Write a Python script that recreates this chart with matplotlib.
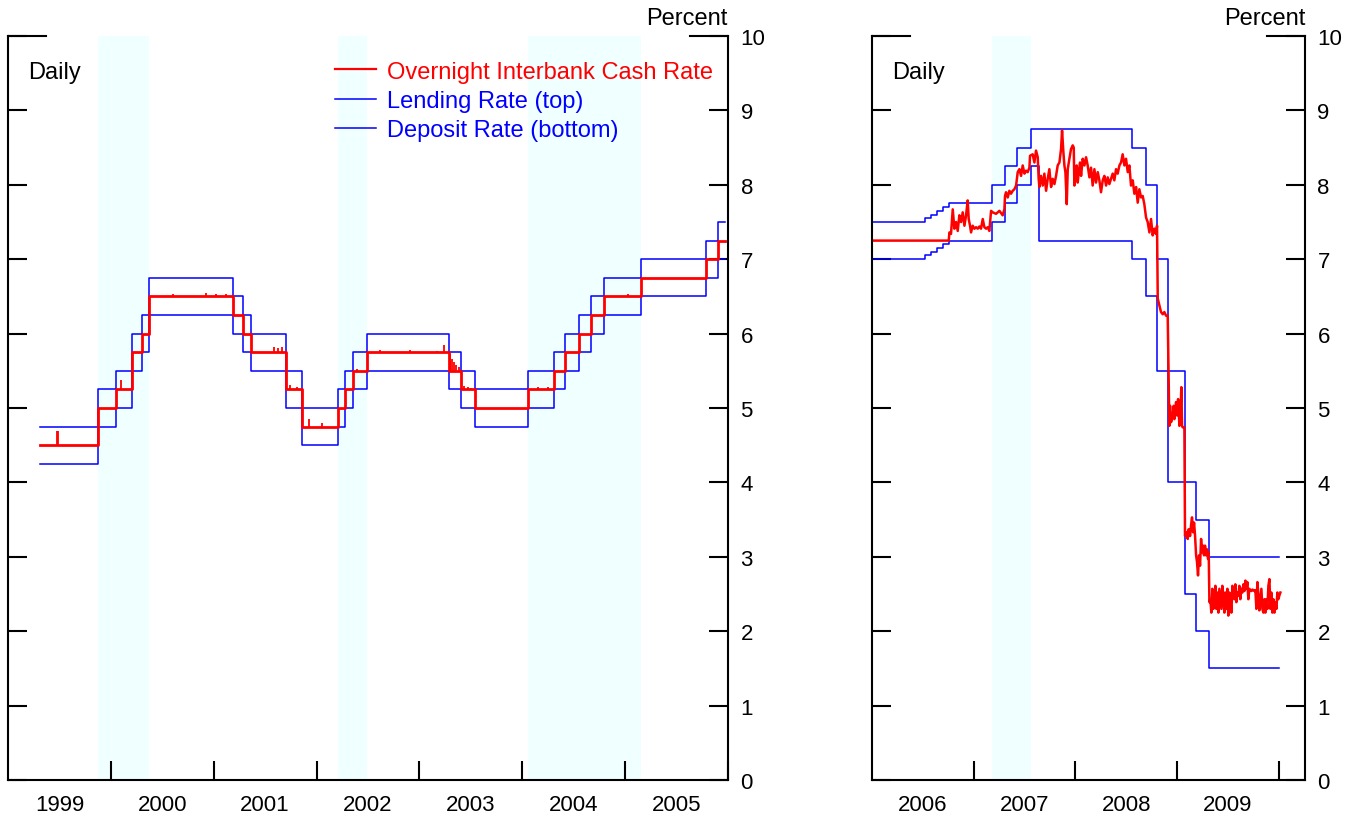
import matplotlib.pyplot as plt
from matplotlib.lines import Line2D

plt.rcParams['font.family'] = ['Liberation Sans', 'DejaVu Sans']

# ---- left panel: 1999-2005, step dates (decimal years) and rates ----
left_dates = [1999.31, 1999.874, 2000.048, 2000.203, 2000.300, 2000.367, 2001.190,
              2001.286, 2001.364, 2001.702, 2001.857, 2002.205, 2002.280, 2002.353,
              2002.492, 2003.288, 2003.407, 2003.537, 2004.055, 2004.304, 2004.417,
              2004.548, 2004.664, 2004.797, 2005.158, 2005.786, 2005.906, 2005.967]
left_cash = [4.5, 5.0, 5.25, 5.75, 6.0, 6.5, 6.25, 6.0, 5.75, 5.25, 4.75, 5.0, 5.25,
             5.5, 5.75, 5.5, 5.25, 5.0, 5.25, 5.5, 5.75, 6.0, 6.25, 6.5, 6.75, 7.0,
             7.25, 7.25]
left_lending = [4.75, 5.25, 5.5, 6.0, 6.25, 6.75, 6.5, 6.25, 6.0, 5.5, 5.0, 5.25, 5.5,
                5.75, 6.0, 5.75, 5.5, 5.25, 5.5, 5.75, 6.0, 6.25, 6.5, 6.75, 7.0, 7.25,
                7.5, 7.5]
left_deposit = [4.25, 4.75, 5.0, 5.5, 5.75, 6.25, 6.0, 5.75, 5.5, 5.0, 4.5, 4.75, 5.0,
                5.25, 5.5, 5.25, 5.0, 4.75, 5.0, 5.25, 5.5, 5.75, 6.0, 6.25, 6.5, 6.75,
                7.0, 7.0]
# small daily blips of the cash rate away from the target
blip_dates = [1999.478, 1999.485, 2000.094, 2000.600, 2000.928, 2001.022, 2001.119,
              2001.586, 2001.625, 2001.663, 2001.741, 2001.809, 2001.925, 2002.050,
              2002.389, 2002.618, 2002.908, 2003.175, 2003.240, 2003.298, 2003.317,
              2003.337, 2003.356, 2003.385, 2003.430, 2003.470, 2003.500, 2004.150,
              2004.250, 2005.030]
blip_base = [4.5, 4.5, 5.25, 6.5, 6.5, 6.5, 6.5, 5.75, 5.75, 5.75, 5.25, 5.25, 4.75,
             4.75, 5.5, 5.75, 5.75, 5.75, 5.75, 5.5, 5.5, 5.5, 5.5, 5.5, 5.25, 5.25,
             5.25, 5.25, 5.25, 6.5]
blip_peak = [4.69, 4.69, 5.37, 6.53, 6.55, 6.53, 6.53, 5.82, 5.80, 5.82, 5.31, 5.28,
             4.85, 4.80, 5.53, 5.78, 5.78, 5.77, 5.85, 5.72, 5.66, 5.62, 5.58, 5.55,
             5.30, 5.28, 5.27, 5.28, 5.28, 6.53]
left_shade = [(1999.874, 2000.367), (2002.205, 2002.492), (2004.055, 2005.158)]
left_years = ['1999', '2000', '2001', '2002', '2003', '2004', '2005']

# ---- right panel: 2006-2009 ----
right_dates = [2006.0, 2006.522, 2006.581, 2006.636, 2006.695, 2006.754, 2007.177,
               2007.309, 2007.423, 2007.560, 2007.639, 2008.558, 2008.691, 2008.800,
               2008.914, 2009.079, 2009.187, 2009.318, 2010.006]
right_lending = [7.5, 7.55, 7.6, 7.65, 7.7, 7.75, 8.0, 8.25, 8.5, 8.75, 8.75, 8.5, 8.0,
                 7.0, 5.5, 4.0, 3.5, 3.0, 3.0]
right_deposit = [7.0, 7.05, 7.1, 7.15, 7.2, 7.25, 7.5, 7.75, 8.0, 8.25, 7.25, 7.0, 6.5,
                 5.5, 4.0, 2.5, 2.0, 1.5, 1.5]

cash_t = [2006.0, 2006.755, 2006.761, 2006.777, 2006.794, 2006.810, 2006.827, 2006.843,
          2006.859, 2006.876, 2006.892, 2006.909, 2006.925, 2006.941, 2006.951, 2006.964,
          2006.974, 2006.990, 2007.007, 2007.023, 2007.040, 2007.056, 2007.072, 2007.089,
          2007.105, 2007.122, 2007.138, 2007.154, 2007.171, 2007.187, 2007.220, 2007.253,
          2007.285, 2007.302, 2007.308, 2007.318, 2007.335, 2007.351, 2007.367, 2007.384,
          2007.400, 2007.417, 2007.433, 2007.449, 2007.466, 2007.482, 2007.499, 2007.515,
          2007.531, 2007.548, 2007.554, 2007.580, 2007.597, 2007.613, 2007.630, 2007.639,
          2007.646, 2007.662, 2007.679, 2007.695, 2007.712, 2007.728, 2007.744,
          2007.761, 2007.777, 2007.794, 2007.810, 2007.826, 2007.843, 2007.859, 2007.869,
          2007.882, 2007.892, 2007.902, 2007.915, 2007.925, 2007.941, 2007.957, 2007.974,
          2007.984, 2007.990, 2008.000, 2008.013, 2008.023, 2008.033, 2008.046, 2008.056,
          2008.072, 2008.089, 2008.105, 2008.121, 2008.138, 2008.154, 2008.170, 2008.187,
          2008.203, 2008.220, 2008.236, 2008.252, 2008.269, 2008.285, 2008.302, 2008.318,
          2008.334, 2008.351, 2008.367, 2008.383, 2008.400, 2008.416, 2008.433, 2008.449,
          2008.465, 2008.482, 2008.498, 2008.515, 2008.531, 2008.547, 2008.564, 2008.580,
          2008.597, 2008.613, 2008.629, 2008.646, 2008.662, 2008.678, 2008.695, 2008.711,
          2008.728, 2008.744, 2008.760, 2008.777, 2008.793, 2008.803,
          2008.810, 2008.826, 2008.842, 2008.859, 2008.875, 2008.892, 2008.908,
          2008.924, 2008.931, 2008.941, 2008.957, 2008.967, 2008.973, 2008.983, 2008.990,
          2009.000, 2009.010, 2009.016, 2009.023, 2009.032, 2009.042, 2009.049, 2009.055,
          2009.072, 2009.078, 2009.088, 2009.105, 2009.114, 2009.128, 2009.137, 2009.147,
          2009.157, 2009.167, 2009.177, 2009.187, 2009.196, 2009.206, 2009.216, 2009.226,
          2009.236, 2009.246, 2009.255, 2009.265, 2009.275, 2009.285, 2009.295, 2009.305,
          2009.311, 2009.318, 2009.327, 2009.337, 2009.347, 2009.357, 2009.367, 2009.377,
          2009.386, 2009.396, 2009.406, 2009.416, 2009.426, 2009.436, 2009.445, 2009.455,
          2009.465, 2009.475, 2009.485, 2009.495, 2009.504, 2009.514, 2009.524, 2009.534,
          2009.544, 2009.554, 2009.564, 2009.573, 2009.583, 2009.593, 2009.603, 2009.613,
          2009.622, 2009.632, 2009.642, 2009.652, 2009.662, 2009.672, 2009.682, 2009.691,
          2009.701, 2009.711, 2009.721, 2009.731, 2009.741, 2009.750, 2009.760, 2009.770,
          2009.780, 2009.790, 2009.800, 2009.809, 2009.819, 2009.829, 2009.839, 2009.849,
          2009.859, 2009.868, 2009.878, 2009.888, 2009.898, 2009.908, 2009.918, 2009.927,
          2009.937, 2009.947, 2009.957, 2009.967, 2009.977, 2009.986, 2009.996, 2010.006,
          2010.016]
cash_v = [7.25, 7.25, 7.36, 7.34, 7.67, 7.41, 7.50, 7.38,
          7.59, 7.50, 7.63, 7.45, 7.59, 7.79, 7.54, 7.45,
          7.36, 7.45, 7.41, 7.43, 7.41, 7.44, 7.41, 7.54,
          7.43, 7.41, 7.43, 7.38, 7.65, 7.63, 7.61, 7.65,
          7.59, 7.67, 7.85, 7.90, 7.83, 7.92, 7.88, 7.92,
          7.94, 7.99, 8.17, 8.21, 8.12, 8.26, 8.15, 8.19,
          8.17, 8.23, 8.39, 8.41, 8.30, 8.46, 8.37, 8.08,
          7.97, 8.12, 7.99, 8.15, 7.92, 8.08, 8.21,
          7.97, 8.08, 8.01, 8.12, 8.26, 8.30, 8.48, 8.73,
          8.44, 8.26, 8.17, 7.74, 8.21, 8.35, 8.48, 8.53,
          8.50, 7.99, 8.12, 8.26, 8.03, 8.17, 8.30, 8.12,
          8.35, 8.26, 8.37, 8.26, 8.10, 8.23, 7.99, 8.21,
          8.03, 8.17, 8.06, 7.90, 8.06, 8.12, 7.99, 8.10,
          8.01, 8.08, 8.15, 8.06, 8.21, 8.15, 8.26, 8.30,
          8.41, 8.26, 8.35, 8.17, 8.26, 7.99, 8.06, 7.88,
          7.97, 7.76, 7.94, 7.83, 7.85, 7.74, 7.56, 7.50,
          7.36, 7.54, 7.32, 7.41, 7.34, 7.45,
          6.47, 6.38, 6.29, 6.26, 6.29, 6.24, 6.24,
          4.76, 5.03, 4.81, 4.90, 5.03, 4.85, 4.94, 5.08,
          4.90, 5.12, 4.94, 4.76, 4.85, 5.28, 4.76, 4.74,
          4.74, 3.28, 3.33, 3.24, 3.37, 3.28, 3.42, 3.53,
          3.33, 3.46, 3.28, 3.02, 2.93, 2.75, 3.02, 2.88,
          3.24, 3.06, 3.15, 3.02, 3.15, 3.02, 3.10, 2.97,
          3.06, 2.39, 2.43, 2.25, 2.57, 2.30, 2.43, 2.61,
          2.30, 2.52, 2.25, 2.57, 2.43, 2.30, 2.61, 2.48,
          2.25, 2.52, 2.30, 2.57, 2.21, 2.52, 2.43, 2.25,
          2.61, 2.48, 2.43, 2.63, 2.39, 2.52, 2.48, 2.61,
          2.43, 2.57, 2.52, 2.63, 2.54, 2.68, 2.57, 2.66,
          2.43, 2.57, 2.55, 2.54, 2.56, 2.55, 2.54, 2.55,
          2.30, 2.66, 2.48, 2.28, 2.43, 2.57, 2.30, 2.25,
          2.43, 2.25, 2.43, 2.30, 2.61, 2.70, 2.30, 2.52,
          2.25, 2.43, 2.25, 2.39, 2.30, 2.52, 2.43, 2.48,
          2.52]
right_shade = [(2007.177, 2007.560)]
right_years = ['2006', '2007', '2008', '2009']

RED = '#FF0000'
BLUE = '#0000FF'
SHADE = '#F0FFFF'

fig = plt.figure(figsize=(13.63, 8.2), dpi=100)
ax1 = fig.add_axes([8 / 1363, 39 / 820, 720 / 1363, 744 / 820])
ax2 = fig.add_axes([872 / 1363, 39 / 820, 433 / 1363, 744 / 820])

# left panel
for a, b in left_shade:
    ax1.axvspan(a, b, color=SHADE, lw=0, zorder=0)
ax1.plot(left_dates, left_lending, drawstyle='steps-post', color=BLUE, lw=1.1)
ax1.plot(left_dates, left_deposit, drawstyle='steps-post', color=BLUE, lw=1.1)
ax1.vlines(blip_dates, blip_base, blip_peak, color=RED, lw=1.3)
ax1.plot(left_dates, left_cash, drawstyle='steps-post', color=RED, lw=2.0)

# right panel
for a, b in right_shade:
    ax2.axvspan(a, b, color=SHADE, lw=0, zorder=0)
ax2.plot(right_dates, right_lending, drawstyle='steps-post', color=BLUE, lw=1.1)
ax2.plot(right_dates, right_deposit, drawstyle='steps-post', color=BLUE, lw=1.1)
ax2.plot(cash_t, cash_v, color=RED, lw=1.8)

ax1.set_xlim(1999.0, 2005.963)
ax2.set_xlim(2006.0, 2010.258)

for ax, start, years in [(ax1, 1999, left_years), (ax2, 2006, right_years)]:
    ax.set_ylim(0, 10)
    ax.set_yticks(range(0, 11))
    ax.tick_params(axis='y', direction='in', length=13.7, width=1.5, left=True,
                   right=True, labelleft=False, labelright=True, pad=9, labelsize=16)
    ax.set_xticks([start + i + 1 for i in range(len(years))])
    ax.set_xticks([start + i + 0.5 for i in range(len(years))], minor=True)
    ax.set_xticklabels(years, minor=True)
    ax.tick_params(axis='x', which='major', direction='in', length=13.7, width=1.5,
                   labelbottom=False)
    ax.tick_params(axis='x', which='minor', length=0, pad=10, labelsize=16)
    ax.spines['top'].set_visible(False)
    for s in ['left', 'right', 'bottom']:
        ax.spines[s].set_linewidth(1.5)
    # short caps at the top of both vertical axes
    cap = 38 / (ax.get_position().width * 1363)
    for xs in ([0, cap], [1 - cap, 1]):
        ax.add_line(Line2D(xs, [1, 1], transform=ax.transAxes, color='black',
                           lw=1.5, clip_on=False))
    ax.text(1.0, 1.024, 'Percent', transform=ax.transAxes, ha='right', va='center',
            fontsize=17)

ax1.text(0.028, 0.951, 'Daily', transform=ax1.transAxes, ha='left', va='center',
         fontsize=17)
ax2.text(0.046, 0.951, 'Daily', transform=ax2.transAxes, ha='left', va='center',
         fontsize=17)

handles = [Line2D([], [], color=RED, lw=1.6), Line2D([], [], color=BLUE, lw=1.1),
           Line2D([], [], color=BLUE, lw=1.1)]
ax1.legend(handles, ['Overnight Interbank Cash Rate', 'Lending Rate (top)',
                     'Deposit Rate (bottom)'],
           loc='upper left', bbox_to_anchor=(0.454, 0.967), frameon=False,
           fontsize=17, labelcolor=[RED, BLUE, BLUE], handlelength=1.74,
           handletextpad=0.47, labelspacing=0.31, borderpad=0, borderaxespad=0)

fig.savefig('out.png', dpi=100)
